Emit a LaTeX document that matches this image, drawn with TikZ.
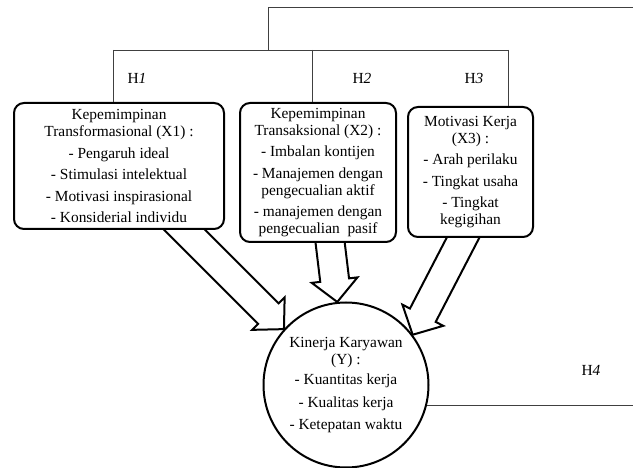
\documentclass[tikz,border=0pt]{standalone}
\usepackage{fontspec}
\setmainfont{Liberation Serif}
\usetikzlibrary{calc}
\pgfdeclarelayer{background}
\pgfsetlayers{background,main}
\newcommand{\drawblockarrow}[2]{%
  \coordinate (#1h) at ($(#2)!22pt!(#1)$);
  \coordinate (#1b) at ($(#1)!-22pt!(#2)$);
  \path[barrow] ($(#1b)!14.5pt!90:(#2)$) -- ($(#1h)!14.5pt!90:(#2)$)
    -- ($(#1h)!23pt!90:(#2)$) -- (#2) -- ($(#1h)!23pt!-90:(#2)$)
    -- ($(#1h)!14.5pt!-90:(#2)$) -- ($(#1b)!14.5pt!-90:(#2)$) -- cycle;
}
\begin{document}
\begin{tikzpicture}[x=1pt,y=-1pt,
  txt/.style={font=\fontsize{15.4}{17}\selectfont},
  box/.style={txt, draw, line width=2pt, rounded corners=10pt, fill=white,
    align=center, inner sep=0pt},
  kinbox/.style={txt, circle, draw, line width=2pt, fill=white, align=center,
    inner sep=0pt, minimum size=165pt},
  conn/.style={draw=black!75, line width=0.9pt},
  barrow/.style={draw, line width=2pt, fill=white, line join=miter},
  hlab/.style={txt, inner sep=0pt}
]
\useasboundingbox (0,0) rectangle (633,468);

% boxes
\node[box, minimum width=210pt, minimum height=126pt] (b1) at (119,166)
  {Kepemimpinan\\Transformasional (X1) :\\[4.5pt]- Pengaruh ideal\\[4.5pt]- Stimulasi intelektual\\[4.5pt]- Motivasi inspirasional\\[4.5pt]- Konsiderial individu};
\node[box, minimum width=156pt, minimum height=139pt] (b2) at (318,172.5)
  {Kepemimpinan\\Transaksional (X2) :\\[4.5pt]- Imbalan kontijen\\[4.5pt]- Manajemen dengan\\pengecualian aktif\\[4.5pt]- manajemen dengan\\pengecualian\ \ pasif};
\node[box, minimum width=125pt, minimum height=130pt] (b3) at (470.5,172)
  {Motivasi Kerja\\(X3) :\\[4.5pt]- Arah perilaku\\[4.5pt]- Tingkat usaha\\[4.5pt]- Tingkat\\kegigihan};
\node[kinbox] (kin) at (346,385)
  {Kinerja Karyawan\\(Y) :\\[3pt]- Kuantitas kerja\\[6pt]- Kualitas kerja\\[4.5pt]- Ketepatan waktu};

% labels
\node[hlab] (h1) at (137,78) {H\textit{1}};
\node[hlab] (h2) at (362,78) {H\textit{2}};
\node[hlab] (h3) at (474,78) {H\textit{3}};
\node[hlab] (h4) at (591,370) {H\textit{4}};

% thin connectors
\coordinate (rt) at (633,7);
\coordinate (tp) at (268,7);
\coordinate (jc) at (268,50);
\coordinate (j1) at (113,50);
\coordinate (j2) at (312,50);
\coordinate (j3) at (508,50);
\draw[conn] (rt) -- (tp) -- (jc);
\draw[conn] (j1) -- (j3);
\draw[conn] (j1) -- (j1 |- b1.north);
\draw[conn] (j2) -- (j2 |- b2.north);
\draw[conn] (j3) -- (j3 |- b3.north);
\draw[conn] (kin.-14) -- (kin.-14 -| rt);

% block arrows
\coordinate (a1s) at ($(b1.south west)!0.81!(b1.south east)$);
\coordinate (a2s) at ($(b2.south west)!0.577!(b2.south east)$);
\coordinate (a3s) at ($(b3.south west)!0.44!(b3.south east)$);
\coordinate (a1t) at (kin.138);
\coordinate (a2t) at (kin.96);
\coordinate (a3t) at (kin.37);
\begin{pgfonlayer}{background}
\drawblockarrow{a1s}{a1t}
\drawblockarrow{a2s}{a2t}
\drawblockarrow{a3s}{a3t}
\end{pgfonlayer}
\end{tikzpicture}
\end{document}
